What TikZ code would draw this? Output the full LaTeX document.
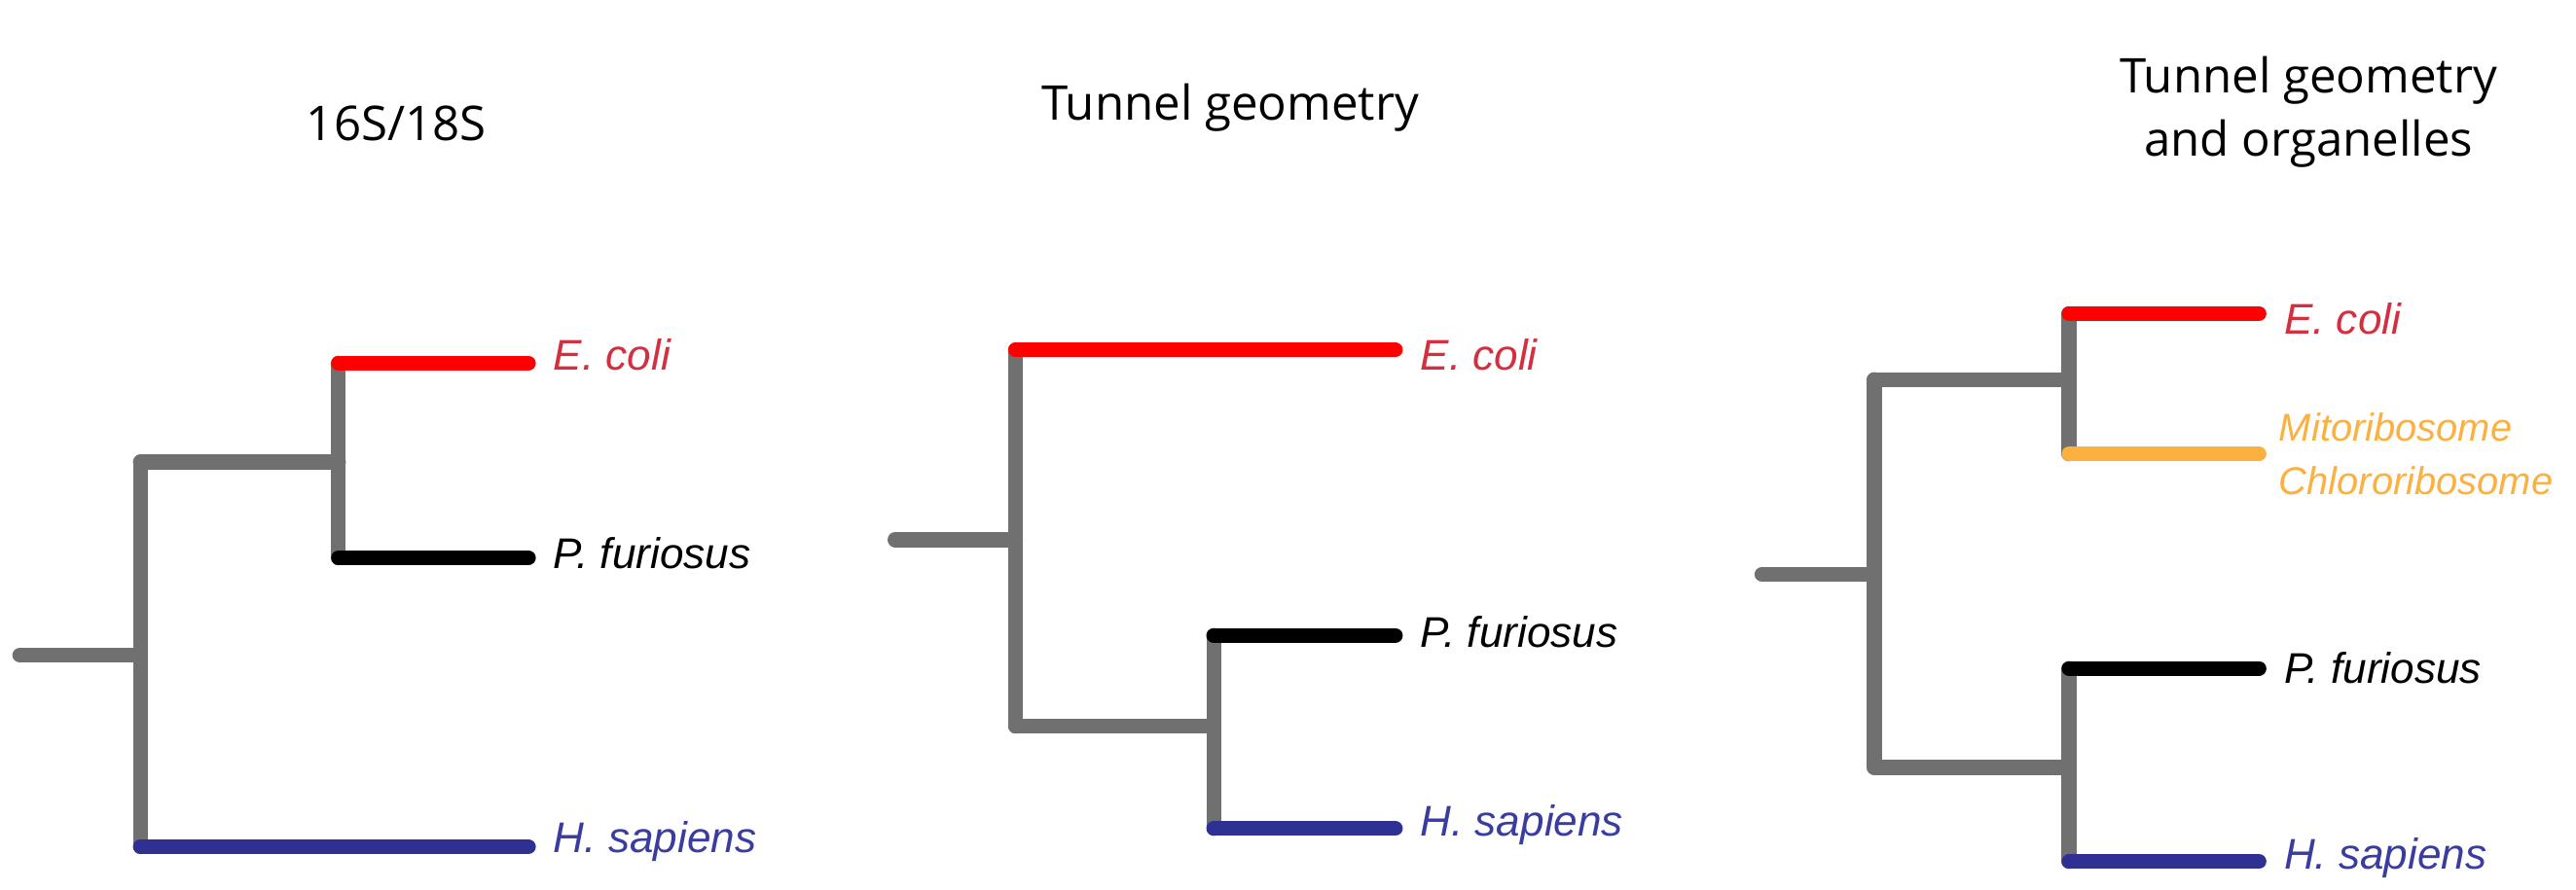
\documentclass[tikz,border=0pt]{standalone}
\usepackage{fontspec}
\setmainfont{Open Sans}
\newfontfamily\labfont{Liberation Sans}
\begin{document}
\begin{tikzpicture}[x=1pt,y=-1pt,
  br/.style={line width=9pt,draw=gbr,line cap=round},
  lf/.style={line width=9pt,line cap=round},
  lab/.style={anchor=west,font=\labfont\fontsize{26}{28}\selectfont\itshape,inner sep=0pt},
  sml/.style={lab,text=og,font=\labfont\fontsize{23.5}{25}\selectfont\itshape},
  ttl/.style={font=\fontsize{29}{38}\selectfont,align=center}]
\definecolor{gbr}{HTML}{707070}
\definecolor{rd}{HTML}{FF0000}
\definecolor{rdt}{HTML}{D3303F}
\definecolor{bl}{HTML}{2E3192}
\definecolor{bl2}{HTML}{3A3C9E}
\definecolor{og}{HTML}{FBB040}
\useasboundingbox (0,0) rectangle (1560,539);
% Tree 1
\node[ttl] (t1) at (240,75) {16S/18S};
\coordinate (r1) at (12,397); \coordinate (a1) at (85,397);
\coordinate (a1t) at (85,280); \coordinate (a1b) at (85,513);
\coordinate (b1) at (205,280); \coordinate (b1t) at (205,220); \coordinate (b1b) at (205,338);
\coordinate (e1) at (320,220); \coordinate (p1) at (320,338); \coordinate (h1) at (320,513);
\draw[br] (r1)--(a1); \draw[br] (a1t)--(a1b); \draw[br] (a1t)--(b1); \draw[br] (b1t)--(b1b);
\draw[lf,rd] (b1t)--(e1); \draw[lf,black] (b1b)--(p1); \draw[lf,bl] (a1b)--(h1);
\node[lab,text=rdt] (le1) at (335,215) {E. coli};
\node[lab] (lp1) at (335,335) {P. furiosus};
\node[lab,text=bl2] (lh1) at (335,510) {H. sapiens};
% Tree 2
\node[ttl] (t2) at (745,65) {Tunnel geometry};
\coordinate (r2) at (542,327); \coordinate (a2) at (615,327);
\coordinate (a2t) at (615,212); \coordinate (a2b) at (615,440);
\coordinate (b2) at (735,440); \coordinate (b2t) at (735,385); \coordinate (b2b) at (735,502);
\coordinate (e2) at (845,212); \coordinate (p2) at (845,385); \coordinate (h2) at (845,502);
\draw[br] (r2)--(a2); \draw[br] (a2t)--(a2b); \draw[br] (a2b)--(b2); \draw[br] (b2t)--(b2b);
\draw[lf,rd] (a2t)--(e2); \draw[lf,black] (b2t)--(p2); \draw[lf,bl] (b2b)--(h2);
\node[lab,text=rdt] (le2) at (860,215) {E. coli};
\node[lab] (lp2) at (860,383) {P. furiosus};
\node[lab,text=bl2] (lh2) at (860,500) {H. sapiens};
% Tree 3
\node[ttl] (t3) at (1398,68) {Tunnel geometry\\and organelles};
\coordinate (r3) at (1067,348); \coordinate (a3) at (1135,348);
\coordinate (a3t) at (1135,230); \coordinate (a3b) at (1135,465);
\coordinate (b3) at (1253,230); \coordinate (b3t) at (1253,190); \coordinate (b3b) at (1253,275);
\coordinate (c3) at (1253,465); \coordinate (c3t) at (1253,405); \coordinate (c3b) at (1253,522);
\coordinate (e3) at (1368,190); \coordinate (m3) at (1368,275);
\coordinate (p3) at (1368,405); \coordinate (h3) at (1368,522);
\draw[br] (r3)--(a3); \draw[br] (a3t)--(a3b); \draw[br] (a3t)--(b3); \draw[br] (b3t)--(b3b);
\draw[br] (a3b)--(c3); \draw[br] (c3t)--(c3b);
\draw[lf,rd] (b3t)--(e3); \draw[lf,og] (b3b)--(m3);
\draw[lf,black] (c3t)--(p3); \draw[lf,bl] (c3b)--(h3);
\node[lab,text=rdt] (le3) at (1383,193) {E. coli};
\node[sml] (lm3) at (1380,259) {Mitoribosome};
\node[sml] (lc3) at (1380,291) {Chlororibosome};
\node[lab] (lp3) at (1383,405) {P. furiosus};
\node[lab,text=bl2] (lh3) at (1383,520) {H. sapiens};
\end{tikzpicture}
\end{document}
